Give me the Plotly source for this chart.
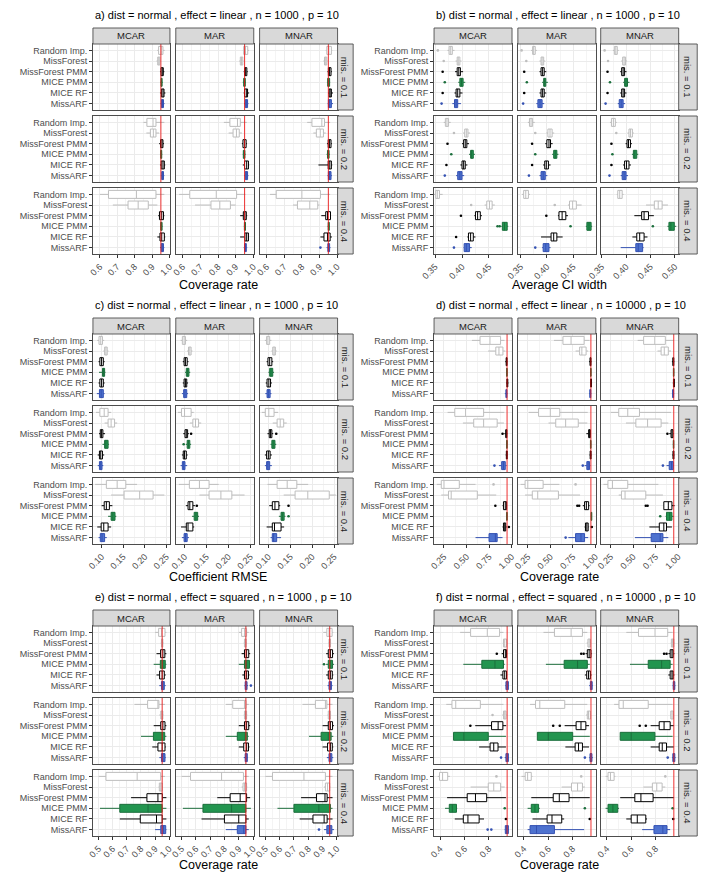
import plotly.graph_objects as go

W, H = 709, 880
METHODS = ["Random Imp.", "MissForest", "MissForest PMM", "MICE PMM", "MICE RF", "MissARF"]
MECHS = ["MCAR", "MAR", "MNAR"]
MIS = ["mis. = 0.1", "mis. = 0.2", "mis. = 0.4"]

TITLES = [
    "a) dist = normal , effect = linear , n = 1000 , p = 10",
    "b) dist = normal , effect = linear , n = 1000 , p = 10",
    "c) dist = normal , effect = linear , n = 1000 , p = 10",
    "d) dist = normal , effect = linear , n = 10000 , p = 10",
    "e) dist = normal , effect = squared , n = 1000 , p = 10",
    "f) dist = normal , effect = squared , n = 10000 , p = 10",
]
XTITLES = ["Coverage rate", "Average CI width", "Coefficient RMSE",
           "Coverage rate", "Coverage rate", "Coverage rate"]

TICKS_A = [0.6, 0.7, 0.8, 0.9, 1.0]
TICKS_B = [0.35, 0.40, 0.45, 0.50]
TICKS_C = [0.10, 0.15, 0.20, 0.25]
TICKS_D = [0.25, 0.50, 0.75, 1.00]
TICKS_E = [0.5, 0.6, 0.7, 0.8, 0.9, 1.0]
TICKS_F = [0.4, 0.6, 0.8, 1.0]
TICKLAB_A = ["0.6", "0.7", "0.8", "0.9", "1.0"]
TICKLAB_B = ["0.35", "0.40", "0.45", "0.50"]
TICKLAB_C = ["0.10", "0.15", "0.20", "0.25"]
TICKLAB_D = ["0.25", "0.50", "0.75", "1.00"]
TICKLAB_E = ["0.5", "0.6", "0.7", "0.8", "0.9", "1.0"]
TICKLAB_F = ["0.4", "0.6", "0.8", "1.0"]

# x-range per facet column
RANGE_A = [[0.561, 1.002]] * 3
RANGE_B = [[0.348, 0.493], [0.345, 0.493], [0.348, 0.508]]
RANGE_C = [[0.08, 0.258]] * 3
RANGE_D = [[0.14, 1.005]] * 3
RANGE_E = [[0.46, 1.005]] * 3
RANGE_F = [[0.35, 0.99]] * 3

REF_LINE = [0.95, None, None, 0.95, 0.95, 0.95]

# box stats: [row(mis)][col(mech)][method] = [lower whisker, q1, median, q3, upper whisker]
A_STATS = [
    [  # mis 0.1
        [[0.93, 0.937, 0.952, 0.962, 0.972], [0.925, 0.932, 0.938, 0.944, 0.95], [0.945, 0.951, 0.958, 0.964, 0.97],
         [0.947, 0.951, 0.954, 0.957, 0.961], [0.945, 0.953, 0.962, 0.968, 0.976], [0.948, 0.953, 0.959, 0.965, 0.971]],
        [[0.94, 0.945, 0.955, 0.968, 0.975], [0.92, 0.926, 0.933, 0.94, 0.945], [0.945, 0.95, 0.956, 0.963, 0.968],
         [0.94, 0.945, 0.95, 0.954, 0.958], [0.945, 0.95, 0.96, 0.967, 0.976], [0.948, 0.954, 0.96, 0.967, 0.972]],
        [[0.935, 0.941, 0.953, 0.967, 0.972], [0.922, 0.928, 0.935, 0.941, 0.946], [0.945, 0.95, 0.957, 0.965, 0.97],
         [0.942, 0.946, 0.951, 0.957, 0.96], [0.948, 0.954, 0.96, 0.967, 0.976], [0.946, 0.95, 0.957, 0.967, 0.976]],
    ],
    [  # mis 0.2
        [[0.85, 0.87, 0.905, 0.922, 0.97], [0.867, 0.89, 0.907, 0.922, 0.94], [0.94, 0.948, 0.956, 0.962, 0.968],
         [0.945, 0.949, 0.952, 0.955, 0.958], [0.945, 0.952, 0.962, 0.97, 0.975], [0.95, 0.955, 0.961, 0.965, 0.97]],
        [[0.833, 0.867, 0.91, 0.926, 0.963], [0.86, 0.885, 0.904, 0.92, 0.935], [0.935, 0.941, 0.95, 0.959, 0.964],
         [0.94, 0.943, 0.948, 0.952, 0.956], [0.94, 0.95, 0.962, 0.972, 0.976], [0.948, 0.954, 0.96, 0.967, 0.972]],
        [[0.83, 0.857, 0.913, 0.928, 0.96], [0.865, 0.882, 0.904, 0.922, 0.935], [0.942, 0.949, 0.957, 0.965, 0.97],
         [0.94, 0.945, 0.95, 0.954, 0.958], [0.894, 0.949, 0.958, 0.967, 0.972], [0.945, 0.95, 0.957, 0.965, 0.97]],
    ],
    [  # mis 0.4
        [[0.6, 0.65, 0.81, 0.922, 0.97], [0.675, 0.762, 0.82, 0.878, 0.93], [0.935, 0.942, 0.955, 0.965, 0.97],
         [0.946, 0.949, 0.953, 0.957, 0.96], [0.93, 0.945, 0.955, 0.97, 0.975], [0.945, 0.952, 0.958, 0.965, 0.97]],
        [[0.58, 0.64, 0.79, 0.905, 0.955], [0.67, 0.76, 0.81, 0.87, 0.90], [0.925, 0.943, 0.952, 0.96, 0.965],
         [0.946, 0.949, 0.952, 0.955, 0.958], [0.925, 0.952, 0.962, 0.972, 0.975], [0.945, 0.951, 0.955, 0.96, 0.965]],
        [[0.62, 0.655, 0.80, 0.905, 0.96], [0.75, 0.775, 0.845, 0.89, 0.90], [0.91, 0.935, 0.945, 0.962, 0.965],
         [0.946, 0.949, 0.952, 0.955, 0.958], [0.905, 0.925, 0.945, 0.96, 0.97], [0.94, 0.947, 0.952, 0.957, 0.962]],
    ],
]
A_OUT = [(2, 2, 5, 0.905)]

B_STATS = [
    [
        [[0.373, 0.376, 0.379, 0.382, 0.386], [0.388, 0.391, 0.393, 0.396, 0.399], [0.387, 0.391, 0.394, 0.397, 0.402],
         [0.393, 0.396, 0.399, 0.402, 0.406], [0.386, 0.389, 0.392, 0.396, 0.401], [0.382, 0.386, 0.389, 0.392, 0.398]],
        [[0.370, 0.373, 0.375, 0.378, 0.381], [0.386, 0.389, 0.391, 0.394, 0.397], [0.386, 0.389, 0.392, 0.395, 0.399],
         [0.391, 0.394, 0.396, 0.398, 0.402], [0.386, 0.389, 0.392, 0.395, 0.399], [0.380, 0.383, 0.387, 0.391, 0.395]],
        [[0.373, 0.376, 0.379, 0.382, 0.385], [0.390, 0.393, 0.396, 0.399, 0.402], [0.388, 0.391, 0.394, 0.397, 0.401],
         [0.394, 0.397, 0.400, 0.403, 0.407], [0.388, 0.391, 0.394, 0.397, 0.401], [0.383, 0.386, 0.390, 0.394, 0.398]],
    ],
    [
        [[0.366, 0.369, 0.372, 0.375, 0.379], [0.402, 0.405, 0.408, 0.411, 0.415], [0.400, 0.403, 0.406, 0.409, 0.413],
         [0.413, 0.416, 0.418, 0.421, 0.424], [0.397, 0.400, 0.403, 0.406, 0.410], [0.389, 0.392, 0.396, 0.400, 0.404]],
        [[0.364, 0.367, 0.370, 0.373, 0.377], [0.399, 0.402, 0.406, 0.410, 0.414], [0.397, 0.400, 0.404, 0.407, 0.411],
         [0.410, 0.413, 0.416, 0.419, 0.422], [0.393, 0.396, 0.399, 0.403, 0.407], [0.386, 0.389, 0.393, 0.397, 0.401]],
        [[0.367, 0.370, 0.374, 0.378, 0.381], [0.403, 0.406, 0.409, 0.413, 0.416], [0.399, 0.402, 0.405, 0.409, 0.412],
         [0.412, 0.415, 0.418, 0.422, 0.425], [0.394, 0.397, 0.401, 0.406, 0.410], [0.389, 0.392, 0.396, 0.400, 0.404]],
    ],
    [
        [[0.347, 0.351, 0.354, 0.358, 0.364], [0.442, 0.446, 0.451, 0.456, 0.461], [0.423, 0.425, 0.429, 0.434, 0.437],
         [0.473, 0.475, 0.479, 0.484, 0.486], [0.410, 0.412, 0.416, 0.421, 0.425], [0.403, 0.404, 0.408, 0.414, 0.418]],
        [[0.353, 0.356, 0.360, 0.365, 0.368], [0.440, 0.443, 0.449, 0.456, 0.466], [0.421, 0.423, 0.429, 0.436, 0.440],
         [0.474, 0.476, 0.480, 0.484, 0.486], [0.389, 0.408, 0.413, 0.419, 0.430], [0.391, 0.393, 0.398, 0.404, 0.407]],
        [[0.381, 0.383, 0.387, 0.392, 0.395], [0.441, 0.458, 0.466, 0.474, 0.486], [0.417, 0.432, 0.437, 0.446, 0.457],
         [0.485, 0.488, 0.492, 0.499, 0.503], [0.413, 0.422, 0.428, 0.437, 0.444], [0.389, 0.420, 0.425, 0.434, 0.436]],
    ],
]
B_OUT = [
    (0, 0, 0, 0.355), (0, 0, 1, 0.366), (0, 0, 2, 0.364), (0, 0, 3, 0.368), (0, 0, 4, 0.364), (0, 0, 5, 0.362),
    (0, 1, 0, 0.352), (0, 1, 1, 0.361), (0, 1, 2, 0.357), (0, 1, 3, 0.362), (0, 1, 4, 0.357), (0, 1, 5, 0.355),
    (0, 2, 0, 0.356), (0, 2, 1, 0.363), (0, 2, 2, 0.362), (0, 2, 3, 0.367), (0, 2, 4, 0.362), (0, 2, 5, 0.358),
    (1, 0, 1, 0.385), (1, 0, 2, 0.373), (1, 0, 3, 0.380), (1, 0, 4, 0.371), (1, 0, 5, 0.368),
    (1, 1, 1, 0.378), (1, 1, 2, 0.372), (1, 1, 3, 0.378), (1, 1, 4, 0.372), (1, 1, 5, 0.366),
    (1, 2, 1, 0.380), (1, 2, 2, 0.370), (1, 2, 3, 0.372), (1, 2, 4, 0.370), (1, 2, 5, 0.366),
    (2, 0, 1, 0.417), (2, 0, 2, 0.398), (2, 0, 3, 0.466), (2, 0, 3, 0.470), (2, 0, 4, 0.389), (2, 0, 5, 0.385),
    (2, 1, 1, 0.415), (2, 1, 2, 0.399), (2, 1, 3, 0.445), (2, 1, 5, 0.378),
    (2, 2, 3, 0.455),
]

C_STATS = [
    [
        [[0.090, 0.094, 0.098, 0.102, 0.106], [0.104, 0.107, 0.110, 0.113, 0.116], [0.093, 0.096, 0.100, 0.104, 0.107],
         [0.094, 0.102, 0.105, 0.107, 0.109], [0.093, 0.096, 0.100, 0.104, 0.107], [0.089, 0.095, 0.099, 0.104, 0.107]],
        [[0.091, 0.095, 0.099, 0.102, 0.106], [0.106, 0.109, 0.112, 0.115, 0.118], [0.096, 0.099, 0.102, 0.106, 0.109],
         [0.101, 0.104, 0.107, 0.110, 0.113], [0.096, 0.099, 0.102, 0.105, 0.108], [0.094, 0.098, 0.101, 0.105, 0.108]],
        [[0.092, 0.096, 0.099, 0.103, 0.107], [0.107, 0.110, 0.113, 0.116, 0.119], [0.096, 0.099, 0.103, 0.108, 0.111],
         [0.100, 0.103, 0.106, 0.110, 0.113], [0.094, 0.097, 0.101, 0.105, 0.108], [0.093, 0.097, 0.100, 0.104, 0.107]],
    ],
    [
        [[0.087, 0.096, 0.106, 0.115, 0.122], [0.107, 0.115, 0.122, 0.130, 0.136], [0.094, 0.097, 0.100, 0.103, 0.108],
         [0.102, 0.107, 0.110, 0.115, 0.117], [0.091, 0.095, 0.098, 0.102, 0.106], [0.091, 0.095, 0.098, 0.101, 0.104]],
        [[0.085, 0.093, 0.100, 0.115, 0.121], [0.112, 0.119, 0.125, 0.132, 0.138], [0.097, 0.101, 0.104, 0.107, 0.110],
         [0.103, 0.106, 0.109, 0.112, 0.115], [0.094, 0.097, 0.100, 0.104, 0.107], [0.091, 0.095, 0.098, 0.101, 0.106]],
        [[0.085, 0.093, 0.101, 0.113, 0.122], [0.110, 0.120, 0.127, 0.135, 0.142], [0.098, 0.102, 0.105, 0.108, 0.111],
         [0.105, 0.108, 0.111, 0.115, 0.118], [0.092, 0.096, 0.100, 0.104, 0.108], [0.092, 0.096, 0.099, 0.103, 0.108]],
    ],
    [
        [[0.085, 0.111, 0.136, 0.156, 0.182], [0.122, 0.152, 0.188, 0.219, 0.245], [0.100, 0.106, 0.111, 0.118, 0.125],
         [0.115, 0.122, 0.126, 0.131, 0.134], [0.090, 0.099, 0.105, 0.115, 0.122], [0.093, 0.097, 0.101, 0.107, 0.112]],
        [[0.087, 0.111, 0.134, 0.156, 0.178], [0.134, 0.156, 0.183, 0.208, 0.237], [0.103, 0.108, 0.112, 0.119, 0.124],
         [0.117, 0.122, 0.126, 0.130, 0.133], [0.092, 0.104, 0.108, 0.119, 0.122], [0.094, 0.099, 0.102, 0.106, 0.110]],
        [[0.098, 0.120, 0.143, 0.165, 0.191], [0.135, 0.161, 0.190, 0.239, 0.254], [0.102, 0.109, 0.115, 0.124, 0.127],
         [0.124, 0.129, 0.132, 0.136, 0.139], [0.096, 0.109, 0.114, 0.129, 0.136], [0.105, 0.109, 0.112, 0.119, 0.129]],
    ],
]
C_OUT = [(1, 1, 2, 0.115), (1, 1, 3, 0.098), (1, 2, 2, 0.118), (2, 1, 2, 0.128), (2, 2, 2, 0.146), (2, 2, 3, 0.146)]

D_STATS = [
    [
        [[0.56, 0.65, 0.76, 0.878, 0.922], [0.74, 0.825, 0.86, 0.904, 0.93], [0.93, 0.94, 0.945, 0.95, 0.955],
         [0.94, 0.945, 0.948, 0.951, 0.954], [0.94, 0.948, 0.953, 0.958, 0.965], [0.925, 0.937, 0.943, 0.948, 0.955]],
        [[0.54, 0.64, 0.73, 0.875, 0.935], [0.78, 0.825, 0.85, 0.897, 0.92], [0.93, 0.94, 0.946, 0.951, 0.956],
         [0.942, 0.946, 0.949, 0.952, 0.955], [0.94, 0.947, 0.952, 0.957, 0.963], [0.93, 0.938, 0.944, 0.949, 0.955]],
        [[0.55, 0.616, 0.74, 0.857, 0.95], [0.77, 0.81, 0.845, 0.89, 0.92], [0.93, 0.94, 0.946, 0.951, 0.956],
         [0.942, 0.946, 0.949, 0.952, 0.955], [0.94, 0.947, 0.952, 0.957, 0.963], [0.93, 0.938, 0.944, 0.949, 0.955]],
    ],
    [
        [[0.29, 0.37, 0.49, 0.69, 0.92], [0.46, 0.58, 0.69, 0.84, 0.915], [0.92, 0.935, 0.942, 0.948, 0.953],
         [0.94, 0.945, 0.948, 0.951, 0.954], [0.935, 0.942, 0.947, 0.952, 0.957], [0.86, 0.89, 0.91, 0.93, 0.945]],
        [[0.26, 0.37, 0.50, 0.605, 0.915], [0.48, 0.56, 0.67, 0.81, 0.91], [0.9, 0.925, 0.936, 0.944, 0.95],
         [0.94, 0.945, 0.948, 0.951, 0.954], [0.935, 0.942, 0.947, 0.952, 0.957], [0.88, 0.905, 0.92, 0.935, 0.945]],
        [[0.25, 0.34, 0.44, 0.57, 0.92], [0.42, 0.53, 0.66, 0.81, 0.89], [0.9, 0.92, 0.932, 0.942, 0.95],
         [0.94, 0.945, 0.948, 0.951, 0.954], [0.935, 0.942, 0.947, 0.952, 0.957], [0.87, 0.90, 0.925, 0.945, 0.952]],
    ],
    [
        [[0.17, 0.22, 0.25, 0.42, 0.60], [0.22, 0.30, 0.33, 0.62, 0.83], [0.9, 0.91, 0.93, 0.945, 0.95],
         [0.94, 0.945, 0.948, 0.951, 0.954], [0.9, 0.91, 0.925, 0.935, 0.945], [0.6, 0.75, 0.82, 0.84, 0.9]],
        [[0.17, 0.22, 0.25, 0.42, 0.60], [0.22, 0.30, 0.36, 0.59, 0.83], [0.86, 0.88, 0.9, 0.925, 0.935],
         [0.95, 0.953, 0.956, 0.96, 0.963], [0.88, 0.89, 0.905, 0.92, 0.925], [0.7, 0.78, 0.84, 0.88, 0.92]],
        [[0.17, 0.22, 0.27, 0.44, 0.78], [0.34, 0.37, 0.41, 0.64, 0.83], [0.84, 0.84, 0.89, 0.93, 0.96],
         [0.86, 0.87, 0.905, 0.93, 0.95], [0.68, 0.79, 0.84, 0.87, 0.93], [0.52, 0.70, 0.80, 0.83, 0.89]],
    ],
]
D_OUT = [(1, 0, 2, 0.9), (1, 0, 5, 0.81), (1, 1, 5, 0.86), (1, 2, 2, 0.88), (1, 2, 5, 0.83),
         (2, 0, 0, 0.8), (2, 0, 2, 0.82), (2, 0, 4, 0.97), (2, 1, 0, 0.78), (2, 1, 2, 0.8), (2, 1, 2, 0.82),
         (2, 1, 4, 0.96), (2, 1, 5, 0.67), (2, 2, 2, 0.64), (2, 2, 2, 0.66), (2, 2, 3, 0.8)]

E_STATS = [
    [
        [[0.9, 0.925, 0.945, 0.97, 0.98], [0.94, 0.945, 0.95, 0.955, 0.96], [0.91, 0.939, 0.955, 0.969, 0.98],
         [0.89, 0.937, 0.955, 0.972, 0.98], [0.91, 0.932, 0.95, 0.965, 0.975], [0.93, 0.945, 0.955, 0.965, 0.975]],
        [[0.9, 0.92, 0.94, 0.955, 0.97], [0.935, 0.94, 0.945, 0.952, 0.958], [0.92, 0.94, 0.955, 0.97, 0.98],
         [0.90, 0.94, 0.955, 0.975, 0.98], [0.925, 0.94, 0.955, 0.968, 0.975], [0.94, 0.945, 0.95, 0.958, 0.965]],
        [[0.905, 0.93, 0.945, 0.967, 0.975], [0.94, 0.945, 0.95, 0.955, 0.96], [0.925, 0.94, 0.955, 0.97, 0.98],
         [0.925, 0.94, 0.955, 0.97, 0.98], [0.925, 0.94, 0.955, 0.968, 0.975], [0.935, 0.945, 0.955, 0.962, 0.97]],
    ],
    [
        [[0.754, 0.847, 0.92, 0.927, 0.97], [0.93, 0.94, 0.947, 0.955, 0.96], [0.89, 0.94, 0.955, 0.97, 0.98],
         [0.80, 0.888, 0.95, 0.968, 0.98], [0.88, 0.92, 0.95, 0.97, 0.975], [0.93, 0.945, 0.955, 0.97, 0.975]],
        [[0.81, 0.858, 0.94, 0.951, 0.97], [0.935, 0.94, 0.947, 0.955, 0.96], [0.9, 0.94, 0.955, 0.97, 0.98],
         [0.81, 0.89, 0.945, 0.96, 0.97], [0.90, 0.935, 0.955, 0.968, 0.975], [0.935, 0.945, 0.952, 0.96, 0.965]],
        [[0.76, 0.85, 0.92, 0.93, 0.97], [0.935, 0.94, 0.947, 0.955, 0.96], [0.9, 0.94, 0.955, 0.97, 0.98],
         [0.805, 0.89, 0.94, 0.96, 0.975], [0.90, 0.935, 0.955, 0.968, 0.975], [0.93, 0.945, 0.955, 0.965, 0.975]],
    ],
    [
        [[0.50, 0.552, 0.773, 0.939, 0.97], [0.925, 0.93, 0.94, 0.95, 0.955], [0.73, 0.842, 0.92, 0.951, 0.98],
         [0.51, 0.65, 0.85, 0.95, 0.98], [0.65, 0.795, 0.91, 0.95, 0.98], [0.9, 0.94, 0.958, 0.975, 0.98]],
        [[0.50, 0.563, 0.78, 0.933, 0.97], [0.92, 0.93, 0.94, 0.955, 0.96], [0.75, 0.84, 0.91, 0.955, 0.98],
         [0.51, 0.65, 0.85, 0.95, 0.985], [0.64, 0.80, 0.90, 0.95, 0.97], [0.81, 0.89, 0.935, 0.95, 0.97]],
        [[0.50, 0.55, 0.77, 0.92, 0.97], [0.91, 0.92, 0.935, 0.95, 0.955], [0.75, 0.858, 0.917, 0.932, 0.97],
         [0.585, 0.70, 0.874, 0.955, 0.97], [0.74, 0.833, 0.911, 0.932, 0.97], [0.91, 0.93, 0.95, 0.965, 0.98]],
    ],
]
E_OUT = [(0, 1, 5, 0.985), (0, 2, 3, 0.91), (2, 2, 5, 0.875)]

F_STATS = [
    [
        [[0.564, 0.65, 0.787, 0.888, 0.92], [0.915, 0.92, 0.93, 0.945, 0.95], [0.905, 0.92, 0.935, 0.945, 0.95],
         [0.59, 0.742, 0.85, 0.92, 0.93], [0.895, 0.915, 0.93, 0.945, 0.95], [0.935, 0.94, 0.95, 0.96, 0.965]],
        [[0.56, 0.65, 0.787, 0.88, 0.92], [0.915, 0.925, 0.935, 0.945, 0.95], [0.905, 0.92, 0.935, 0.95, 0.955],
         [0.58, 0.73, 0.84, 0.92, 0.94], [0.9, 0.915, 0.93, 0.945, 0.955], [0.935, 0.945, 0.952, 0.96, 0.965]],
        [[0.56, 0.66, 0.796, 0.90, 0.94], [0.925, 0.93, 0.94, 0.95, 0.955], [0.905, 0.92, 0.935, 0.945, 0.955],
         [0.59, 0.74, 0.85, 0.92, 0.94], [0.905, 0.92, 0.935, 0.945, 0.955], [0.94, 0.945, 0.952, 0.958, 0.963]],
    ],
    [
        [[0.45, 0.497, 0.528, 0.73, 0.92], [0.91, 0.92, 0.93, 0.94, 0.945], [0.688, 0.822, 0.876, 0.915, 0.942],
         [0.51, 0.51, 0.595, 0.795, 0.94], [0.72, 0.81, 0.84, 0.875, 0.94], [0.93, 0.94, 0.95, 0.96, 0.965]],
        [[0.45, 0.495, 0.53, 0.735, 0.92], [0.91, 0.92, 0.93, 0.945, 0.95], [0.734, 0.828, 0.868, 0.908, 0.934],
         [0.51, 0.51, 0.6, 0.8, 0.94], [0.74, 0.82, 0.848, 0.88, 0.934], [0.935, 0.942, 0.95, 0.958, 0.965]],
        [[0.46, 0.5, 0.535, 0.74, 0.94], [0.92, 0.925, 0.935, 0.945, 0.95], [0.76, 0.83, 0.87, 0.92, 0.95],
         [0.51, 0.51, 0.6, 0.795, 0.94], [0.76, 0.83, 0.855, 0.89, 0.95], [0.935, 0.942, 0.95, 0.958, 0.965]],
    ],
    [
        [[0.38, 0.395, 0.42, 0.462, 0.48], [0.65, 0.795, 0.84, 0.896, 0.93], [0.457, 0.622, 0.69, 0.782, 0.94],
         [0.44, 0.475, 0.5, 0.534, 0.54], [0.52, 0.59, 0.628, 0.72, 0.76], [0.93, 0.935, 0.945, 0.96, 0.965]],
        [[0.38, 0.41, 0.43, 0.46, 0.47], [0.71, 0.79, 0.84, 0.88, 0.90], [0.46, 0.64, 0.69, 0.77, 0.94],
         [0.43, 0.46, 0.49, 0.52, 0.53], [0.47, 0.59, 0.63, 0.71, 0.73], [0.43, 0.45, 0.503, 0.65, 0.894]],
        [[0.39, 0.41, 0.43, 0.46, 0.47], [0.70, 0.774, 0.81, 0.854, 0.88], [0.51, 0.63, 0.68, 0.78, 0.95],
         [0.39, 0.41, 0.45, 0.49, 0.50], [0.56, 0.6, 0.65, 0.72, 0.73], [0.69, 0.787, 0.86, 0.894, 0.92]],
    ],
]
F_OUT = [(0, 0, 2, 0.865), (0, 1, 2, 0.87), (0, 1, 2, 0.89), (0, 2, 2, 0.87), (0, 2, 2, 0.89),
         (1, 0, 1, 0.83), (1, 0, 2, 0.648), (1, 0, 5, 0.9), (1, 1, 2, 0.64), (1, 1, 2, 0.694), (1, 1, 5, 0.9),
         (1, 2, 2, 0.67), (1, 2, 2, 0.72), (1, 2, 5, 0.9),
         (2, 0, 0, 0.862), (2, 0, 3, 0.93), (2, 0, 4, 0.94), (2, 0, 5, 0.79), (2, 0, 5, 0.82),
         (2, 1, 0, 0.87), (2, 1, 3, 0.9), (2, 1, 4, 0.94), (2, 2, 0, 0.88), (2, 2, 3, 0.94), (2, 2, 4, 0.945)]

PANEL_STATS = [A_STATS, B_STATS, C_STATS, D_STATS, E_STATS, F_STATS]
PANEL_OUT = [A_OUT, B_OUT, C_OUT, D_OUT, E_OUT, F_OUT]
PANEL_RANGE = [RANGE_A, RANGE_B, RANGE_C, RANGE_D, RANGE_E, RANGE_F]
PANEL_TICKS = [TICKS_A, TICKS_B, TICKS_C, TICKS_D, TICKS_E, TICKS_F]
PANEL_TICKLAB = [TICKLAB_A, TICKLAB_B, TICKLAB_C, TICKLAB_D, TICKLAB_E, TICKLAB_F]

# ---------------- styling ----------------
LINE_COL = ["#BEBEBE", "#BEBEBE", "#000000", "#1B6E3C", "#000000", "#3451B2"]
FILL_COL = ["#FFFFFF", "#FFFFFF", "#FFFFFF", "#22954F", "#FFFFFF", "#4E72CF"]
FONT = "Liberation Sans, Arial, sans-serif"
YTICK_FS = 9
XTICK_FS = 9
STRIP_FS = 9.5

LEFT_COLS = [(81, 160), (166, 246), (252, 332)]
RIGHT_COLS = [(431, 511), (517, 597), (602, 682)]
LEFT_STRIP = (332, 348)
RIGHT_STRIP = (682, 701)
ROWSETS = [
    dict(rows=[(44, 110), (116, 182), (188, 254)], strip_top=28, title_y=15, xtitle_y=285),
    dict(rows=[(334, 400), (406, 472), (478, 544)], strip_top=318, title_y=305, xtitle_y=577),
    dict(rows=[(626, 692), (698, 764), (770, 836)], strip_top=610, title_y=597, xtitle_y=865),
]


def fx(px):
    return px / W


def fy(py):
    return 1 - py / H


fig = go.Figure()
layout = {}
shapes = []
annotations = []
k = 0
for p in range(6):
    rs = ROWSETS[p // 2]
    cols = LEFT_COLS if p % 2 == 0 else RIGHT_COLS
    strip = LEFT_STRIP if p % 2 == 0 else RIGHT_STRIP
    stats = PANEL_STATS[p]
    ticks = PANEL_TICKS[p]
    minor = [(a + b) / 2 for a, b in zip(ticks[:-1], ticks[1:])]
    step = ticks[1] - ticks[0]
    minor = [ticks[0] - step / 2] + minor + [ticks[-1] + step / 2]
    for r in range(3):
        y0, y1 = rs["rows"][r]
        for c in range(3):
            k += 1
            x0, x1 = cols[c]
            xn = "xaxis" if k == 1 else f"xaxis{k}"
            yn = "yaxis" if k == 1 else f"yaxis{k}"
            xa = f"x{k}" if k > 1 else "x"
            ya = f"y{k}" if k > 1 else "y"
            bottom = r == 2
            layout[xn] = dict(
                domain=[fx(x0), fx(x1)], anchor=ya, range=PANEL_RANGE[p][c],
                tickmode="array", tickvals=ticks, ticktext=PANEL_TICKLAB[p],
                showticklabels=bottom, ticks="outside" if bottom else "",
                ticklen=3, tickwidth=0.8, tickcolor="#333333", tickangle=-45,
                tickfont=dict(size=XTICK_FS, color="#4D4D4D", family=FONT),
                showgrid=True, gridcolor="#EBEBEB", gridwidth=1,
                minor=dict(tickvals=minor, showgrid=True, gridcolor="#F4F4F4", gridwidth=0.6, ticks=""),
                zeroline=False, showline=True, mirror=True, linecolor="#4D4D4D", linewidth=0.9,
            )
            layout[yn] = dict(
                domain=[fy(y1), fy(y0)], anchor=xa, type="category",
                categoryorder="array", categoryarray=METHODS[::-1], range=[-0.6, 5.6],
                tickmode="array", tickvals=METHODS, ticktext=METHODS,
                showticklabels=(c == 0), ticks="outside" if c == 0 else "",
                ticklen=3, tickwidth=0.8, tickcolor="#333333",
                tickfont=dict(size=YTICK_FS, color="#4D4D4D", family=FONT),
                showgrid=True, gridcolor="#EBEBEB", gridwidth=1,
                zeroline=False, showline=True, mirror=True, linecolor="#4D4D4D", linewidth=0.9,
            )
            for m in range(6):
                s = stats[r][c][m]
                fig.add_trace(go.Box(
                    y=[METHODS[m]], lowerfence=[s[0]], q1=[s[1]], median=[s[2]], q3=[s[3]], upperfence=[s[4]],
                    orientation="h", xaxis=xa, yaxis=ya, fillcolor=FILL_COL[m],
                    line=dict(color=LINE_COL[m], width=1), width=0.75, whiskerwidth=0,
                    boxpoints=False, showlegend=False, hoverinfo="skip",
                ))
            outs = [o for o in PANEL_OUT[p] if o[0] == r and o[1] == c]
            if outs:
                fig.add_trace(go.Scatter(
                    x=[o[3] for o in outs], y=[METHODS[o[2]] for o in outs], mode="markers",
                    marker=dict(size=2.6, color=[LINE_COL[o[2]] for o in outs]),
                    xaxis=xa, yaxis=ya, showlegend=False, hoverinfo="skip",
                ))
            if REF_LINE[p] is not None:
                shapes.append(dict(type="line", xref=xa, yref=f"{ya} domain", x0=REF_LINE[p], x1=REF_LINE[p],
                                   y0=0, y1=1, line=dict(color="rgba(235,20,20,0.8)", width=1.1), layer="above"))
            if r == 0:
                shapes.append(dict(type="rect", xref="paper", yref="paper", x0=fx(x0), x1=fx(x1),
                                   y0=fy(y0), y1=fy(rs["strip_top"]), fillcolor="#D9D9D9",
                                   line=dict(color="#4D4D4D", width=0.9), layer="above"))
                annotations.append(dict(text=MECHS[c], xref="paper", yref="paper", x=fx((x0 + x1) / 2),
                                        y=fy((y0 + rs["strip_top"]) / 2), showarrow=False,
                                        xanchor="center", yanchor="middle",
                                        font=dict(size=STRIP_FS, color="#1A1A1A", family=FONT)))
        shapes.append(dict(type="rect", xref="paper", yref="paper", x0=fx(strip[0]), x1=fx(strip[1]),
                           y0=fy(y1), y1=fy(y0), fillcolor="#D9D9D9",
                           line=dict(color="#4D4D4D", width=0.9), layer="above"))
        annotations.append(dict(text=MIS[r], xref="paper", yref="paper", x=fx((strip[0] + strip[1]) / 2),
                                y=fy((y0 + y1) / 2), showarrow=False, textangle=90,
                                xanchor="center", yanchor="middle",
                                font=dict(size=STRIP_FS, color="#1A1A1A", family=FONT)))
    annotations.append(dict(text=TITLES[p], xref="paper", yref="paper", x=fx(cols[0][0]), y=fy(rs["title_y"]),
                            showarrow=False, xanchor="left", yanchor="middle",
                            font=dict(size=11, color="#000000", family=FONT)))
    annotations.append(dict(text=XTITLES[p], xref="paper", yref="paper",
                            x=fx((cols[0][0] + cols[2][1]) / 2 + 3), y=fy(rs["xtitle_y"]),
                            showarrow=False, xanchor="center", yanchor="middle",
                            font=dict(size=12.5, color="#000000", family=FONT)))

fig.update_layout(
    width=W, height=H, margin=dict(l=0, r=0, t=0, b=0),
    paper_bgcolor="white", plot_bgcolor="white", boxmode="overlay",
    font=dict(family=FONT), shapes=shapes, annotations=annotations, **layout,
)
fig.write_html("out.html")
